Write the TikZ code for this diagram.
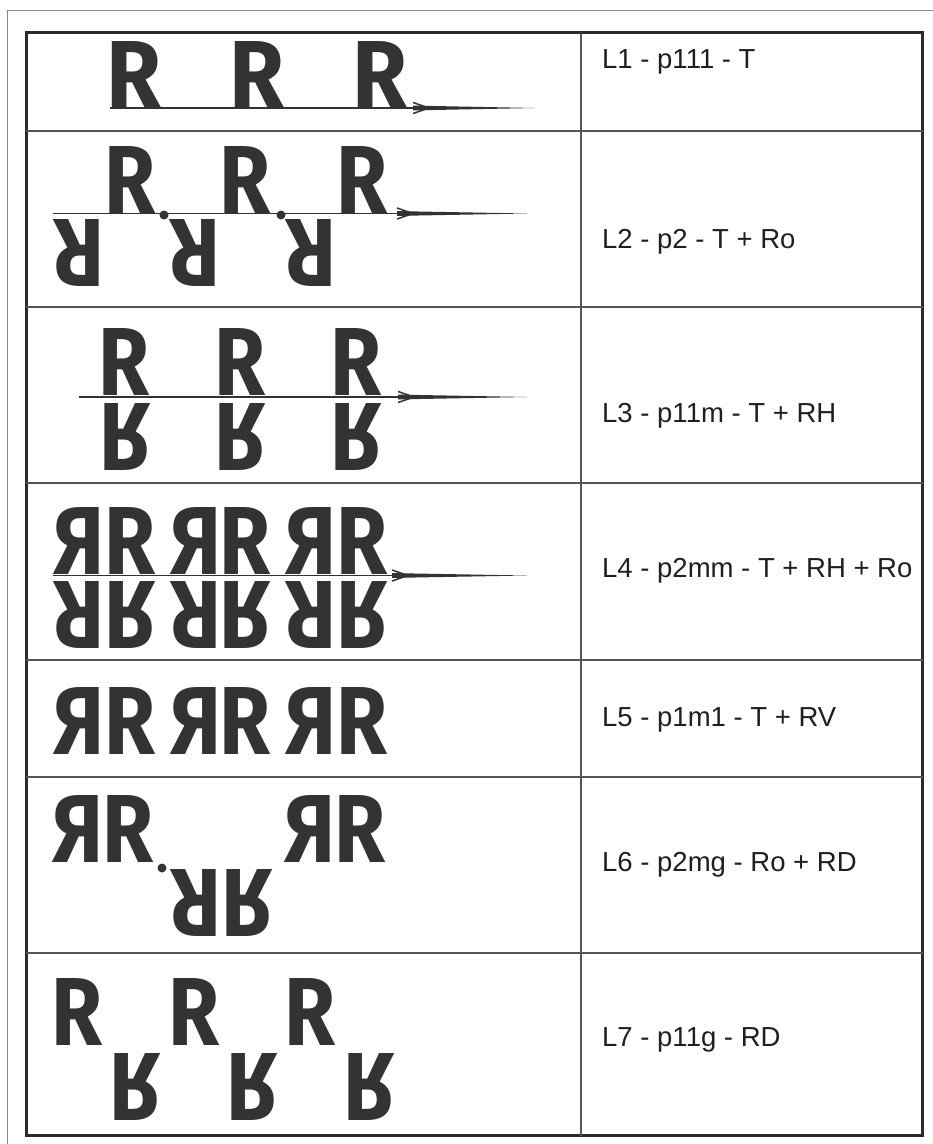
\documentclass[tikz,border=0pt]{standalone}
\usepackage{fontspec}
\setmainfont{Liberation Sans}
\newfontfamily\rfont{Fira Sans}
\usetikzlibrary{calc}
\definecolor{ink}{HTML}{333333}
\definecolor{rulec}{HTML}{2B2B2B}
\definecolor{gridc}{HTML}{555555}
\definecolor{framec}{HTML}{8A8A8A}
\newcommand\Rglyph[3]{\scalebox{#1}[#2]{\resizebox{#3}{67pt}{\rfont\bfseries R}}}
\newcommand\featherarrow[3]{%
  \draw[axisline] (#1) -- ($(#2)+(16,0)$);
  \fill[ink] ($(#2)+(0,2.4)$) -- (#3) -- ($(#2)+(0,-2.4)$) -- cycle;
  \draw[barb] ($(#2)+(0,-5.5)$) -- ($(#2)+(16,0)$) -- ($(#2)+(0,5.5)$);
}
\tikzset{
  glyph/.style={inner sep=0pt, outer sep=0pt, text=ink, anchor=center},
  lab/.style={inner sep=0pt, anchor=base west, text=black!88, font=\fontsize{27.5}{32}\selectfont},
  axisline/.style={draw=ink, line width=1.7pt},
  barb/.style={draw=ink, line width=1.5pt},
  rowrule/.style={draw=gridc, line width=1.5pt},
  tableframe/.style={draw=rulec, line width=3pt},
  pageframe/.style={draw=framec, line width=1pt},
  pivot/.style={circle, fill=ink, inner sep=0pt, minimum size=9pt}
}
\begin{document}
\begin{tikzpicture}[x=1pt, y=-1pt]
\fill[white] (0,0) rectangle (933,1144);
\useasboundingbox (0,0) rectangle (933,1144);
% page frame
\draw[pageframe] (933,10) -- (7,10) -- (7,1144);
% table
\draw[tableframe] (26,32.5) rectangle (922.5,1135.5);
\draw[rowrule] (581,32.5) -- (581,1135.5);
\foreach \yy in {131,307,483,660,777,953}
  \draw[rowrule] (26,\yy) -- (922.5,\yy);

% Row 1
\coordinate (a1s) at (110,108); \coordinate (a1b) at (413,108); \coordinate (a1e) at (535,108);
\featherarrow{a1s}{a1b}{a1e}
\node[glyph] (r1a) at (134.5,74.5) {\Rglyph{1}{1}{55pt}};
\node[glyph] (r1b) at (257.5,74.5) {\Rglyph{1}{1}{55pt}};
\node[glyph] (r1c) at (380.5,74.5) {\Rglyph{1}{1}{55pt}};
\node[lab] (l1) at (602,68) {L1 - p111 - T};

% Row 2
\coordinate (a2s) at (53,213.5); \coordinate (a2b) at (397,213.5); \coordinate (a2e) at (527,213.5);
\featherarrow{a2s}{a2b}{a2e}
\node[glyph] (r2a) at (130.5,180) {\Rglyph{1}{1}{51pt}};
\node[glyph] (r2b) at (245.5,180) {\Rglyph{1}{1}{51pt}};
\node[glyph] (r2c) at (362.5,180) {\Rglyph{1}{1}{51pt}};
\node[glyph] (r2d) at (78.5,252.5) {\Rglyph{-1}{-1}{51pt}};
\node[glyph] (r2e) at (195,252.5) {\Rglyph{-1}{-1}{51pt}};
\node[glyph] (r2f) at (311,252.5) {\Rglyph{-1}{-1}{51pt}};
\node[pivot] (d2a) at (164,215) {};
\node[pivot] (d2b) at (281,215) {};
\node[lab] (l2) at (602,248) {L2 - p2 - T + Ro};

% Row 3
\coordinate (a3s) at (79,397); \coordinate (a3b) at (398,397); \coordinate (a3e) at (527,397);
\featherarrow{a3s}{a3b}{a3e}
\node[glyph] (r3a) at (124,361.5) {\Rglyph{1}{1}{51pt}};
\node[glyph] (r3b) at (240.5,361.5) {\Rglyph{1}{1}{51pt}};
\node[glyph] (r3c) at (356,361.5) {\Rglyph{1}{1}{51pt}};
\node[glyph] (r3d) at (125,436.5) {\Rglyph{1}{-1}{51pt}};
\node[glyph] (r3e) at (240.5,436.5) {\Rglyph{1}{-1}{51pt}};
\node[glyph] (r3f) at (356,436.5) {\Rglyph{1}{-1}{51pt}};
\node[lab] (l3) at (602,422) {L3 - p11m - T + RH};

% Row 4
\coordinate (a4s) at (53,575.5); \coordinate (a4b) at (392,575.5); \coordinate (a4e) at (527,575.5);
\featherarrow{a4s}{a4b}{a4e}
\foreach \xm/\xr/\k in {78.5/130.5/a, 195.5/245.5/b, 310.5/362/c}{
  \node[glyph] (r4m\k) at (\xm,541) {\Rglyph{-1}{1}{51pt}};
  \node[glyph] (r4r\k) at (\xr,541) {\Rglyph{1}{1}{51pt}};
  \node[glyph] (r4u\k) at (\xm,615) {\Rglyph{-1}{-1}{51pt}};
  \node[glyph] (r4v\k) at (\xr,615) {\Rglyph{1}{-1}{51pt}};
}
\node[lab] (l4) at (602,577) {L4 - p2mm - T + RH + Ro};

% Row 5
\foreach \xm/\xr/\k in {78.5/130.5/a, 195.5/245.5/b, 310.5/362/c}{
  \node[glyph] (r5m\k) at (\xm,720.5) {\Rglyph{-1}{1}{51pt}};
  \node[glyph] (r5r\k) at (\xr,720.5) {\Rglyph{1}{1}{51pt}};
}
\node[lab] (l5) at (602,726) {L5 - p1m1 - T + RV};

% Row 6
\node[glyph] (r6a) at (77.5,828.5) {\Rglyph{-1}{1}{51pt}};
\node[glyph] (r6b) at (128.5,828.5) {\Rglyph{1}{1}{51pt}};
\node[glyph] (r6c) at (310,828.5) {\Rglyph{-1}{1}{51pt}};
\node[glyph] (r6d) at (360.5,828.5) {\Rglyph{1}{1}{51pt}};
\node[glyph] (r6e) at (196,902.5) {\Rglyph{-1}{-1}{51pt}};
\node[glyph] (r6f) at (247,902.5) {\Rglyph{1}{-1}{51pt}};
\node[pivot] (d6) at (162,868) {};
\node[lab] (l6) at (602,871) {L6 - p2mg - Ro + RD};

% Row 7
\node[glyph] (r7a) at (77.5,1011.5) {\Rglyph{1}{1}{51pt}};
\node[glyph] (r7b) at (194,1011.5) {\Rglyph{1}{1}{51pt}};
\node[glyph] (r7c) at (310.5,1011.5) {\Rglyph{1}{1}{51pt}};
\node[glyph] (r7d) at (135.5,1086.5) {\Rglyph{1}{-1}{51pt}};
\node[glyph] (r7e) at (252.5,1086.5) {\Rglyph{1}{-1}{51pt}};
\node[glyph] (r7f) at (369,1086.5) {\Rglyph{1}{-1}{51pt}};
\node[lab] (l7) at (602,1046) {L7 - p11g - RD};
\end{tikzpicture}
\end{document}
